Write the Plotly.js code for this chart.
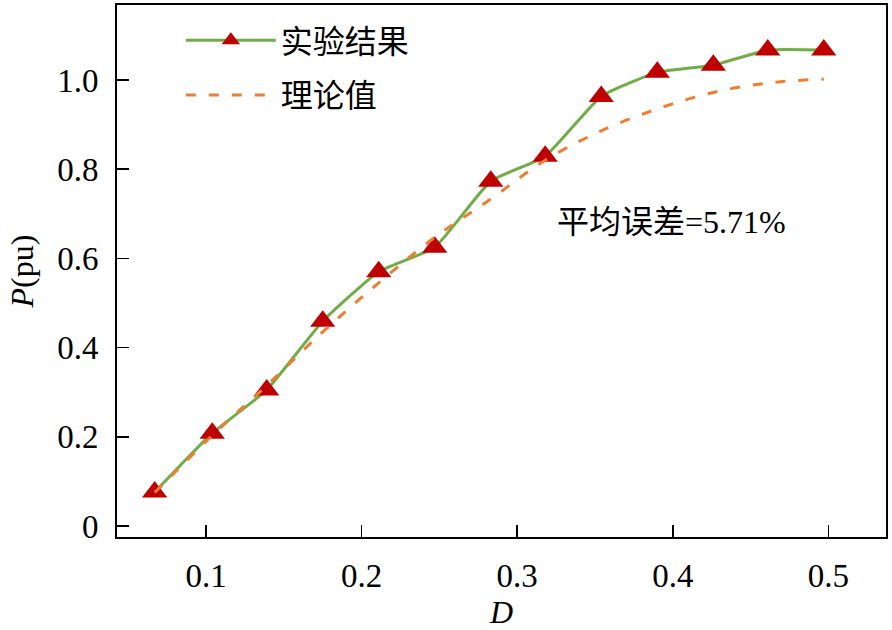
<!DOCTYPE html>
<html>
<head>
<meta charset="utf-8">
<script src="https://cdn.plot.ly/plotly-3.0.1.min.js"></script>
<style>html,body{margin:0;padding:0;background:#fff;}#chart{width:892px;height:630px;}</style>
</head>
<body>
<div id="chart"></div>
<script>
// Data
const dutyD = [0.067, 0.104, 0.139, 0.175, 0.211, 0.247, 0.283, 0.318, 0.354, 0.390, 0.426, 0.461, 0.497];
const pExperiment = [0.076, 0.208, 0.305, 0.459, 0.570, 0.625, 0.773, 0.829, 0.963, 1.017, 1.033, 1.067, 1.067];
const pTheory = [0.075, 0.203, 0.315, 0.435, 0.545, 0.647, 0.733, 0.820, 0.886, 0.935, 0.972, 0.993, 1.002];
const seriesNames = ['实验结果', '理论值'];
const xTickVals = [0.1, 0.2, 0.3, 0.4, 0.5];
const xTickText = ['0.1', '0.2', '0.3', '0.4', '0.5'];
const yTickVals = [0, 0.2, 0.4, 0.6, 0.8, 1.0];
const yTickText = ['0', '0.2', '0.4', '0.6', '0.8', '1.0'];
const noteText = '平均误差=5.71%';

const FONT = '"Liberation Serif", "Times New Roman", "Noto Sans CJK SC", serif';

const traces = [
  {
    x: dutyD, y: pExperiment, name: seriesNames[0], type: 'scatter', mode: 'lines+markers',
    legendgroup: 'a',
    line: {color: '#70AD47', width: 3, shape: 'spline', smoothing: 0.45},
    marker: {symbol: 'triangle-up', size: 22, color: '#C00000'}
  },
  {
    x: dutyD, y: pTheory, name: seriesNames[1], type: 'scatter', mode: 'lines',
    legendgroup: 'b',
    line: {color: '#ED7D31', width: 3, dash: '10px,13px', shape: 'spline', smoothing: 1}
  }
];

const axisCommon = {
  showline: true, linecolor: '#000', linewidth: 2, mirror: true,
  ticks: 'inside', ticklen: 12, tickwidth: 1.5, tickcolor: '#000',
  showgrid: false, zeroline: false,
  tickfont: {family: FONT, size: 33, color: '#000'}
};

const layout = {
  width: 892, height: 630,
  margin: {l: 117, r: 6, t: 5, b: 93},
  paper_bgcolor: '#fff', plot_bgcolor: '#fff',
  font: {family: FONT, color: '#000'},
  xaxis: Object.assign({}, axisCommon, {
    range: [0.0428, 0.537], tickvals: xTickVals, ticktext: xTickText,
    ticklabelstandoff: 8,
    title: {text: '<i>D</i>', font: {family: FONT, size: 32, color: '#000'}, standoff: 8}
  }),
  yaxis: Object.assign({}, axisCommon, {
    range: [-0.0247, 1.168], tickvals: yTickVals, ticktext: yTickText,
    ticklabelstandoff: 10,
    title: {text: '<i>P</i>(pu)', font: {family: FONT, size: 32, color: '#000'}, standoff: 14}
  }),
  showlegend: true,
  legend: {
    x: 0.083, y: 0.985, xanchor: 'left', yanchor: 'top',
    bgcolor: 'rgba(0,0,0,0)', borderwidth: 0,
    font: {family: FONT, size: 32, color: '#000'},
    traceorder: 'grouped', tracegroupgap: 10, itemwidth: 90
  },
  annotations: [{
    xref: 'paper', yref: 'paper', x: 0.569, y: 0.592, xanchor: 'left', yanchor: 'middle',
    text: noteText, showarrow: false, font: {family: FONT, size: 32, color: '#000'}
  }]
};

Plotly.newPlot('chart', traces, layout, {staticPlot: true});
</script>
</body>
</html>
